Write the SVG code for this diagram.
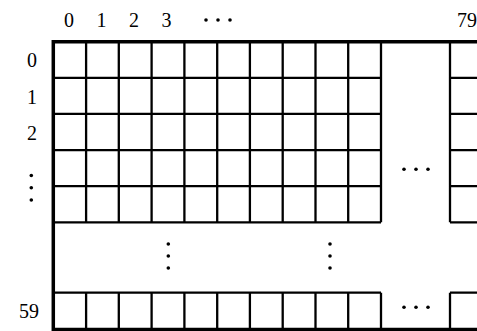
<svg xmlns="http://www.w3.org/2000/svg" width="477" height="331" viewBox="0 0 477 331">
<style>
.t{font-family:"Liberation Serif","Times New Roman",serif;font-size:20px;fill:#000}
.thin{stroke:#000;stroke-width:2.3;fill:none}
.thick{stroke:#000;stroke-width:3.5;fill:none}
.dot{fill:#000}
</style>
<rect width="477" height="331" fill="#fff"/>
<g id="grid">
<path class="thin" d="M53.3 77.8H381M53.3 113.9H381M53.3 150.1H381M53.3 186.2H381M53.3 222.3H381M53.3 292.7H381
M450 77.8H477M450 113.9H477M450 150.1H477M450 186.2H477M450 222.3H477M450 292.7H477
M86.1 41.7V222.3M118.8 41.7V222.3M151.6 41.7V222.3M184.4 41.7V222.3M217.2 41.7V222.3M249.9 41.7V222.3M282.7 41.7V222.3M315.5 41.7V222.3M348.2 41.7V222.3M381 41.7V222.3M450 41.7V222.3
M86.1 292.7V329.3M118.8 292.7V329.3M151.6 292.7V329.3M184.4 292.7V329.3M217.2 292.7V329.3M249.9 292.7V329.3M282.7 292.7V329.3M315.5 292.7V329.3M348.2 292.7V329.3M381 292.7V329.3M450 292.7V329.3"/>
<path class="thick" d="M53.3 40V331M51.6 41.7H477M51.6 329.4H477"/>
</g>
<g id="col-labels">
<text class="t" x="69" y="26.5" text-anchor="middle">0</text>
<text class="t" x="101.5" y="26.5" text-anchor="middle">1</text>
<text class="t" x="134" y="26.5" text-anchor="middle">2</text>
<text class="t" x="166.5" y="26.5" text-anchor="middle">3</text>
<circle class="dot" cx="206" cy="20" r="1.8"/>
<circle class="dot" cx="218" cy="20" r="1.8"/>
<circle class="dot" cx="230" cy="20" r="1.8"/>
<text class="t" x="477" y="26.5" text-anchor="end">79</text>
</g>
<g id="row-labels">
<text class="t" x="32" y="66.8" text-anchor="middle">0</text>
<text class="t" x="32" y="103.8" text-anchor="middle">1</text>
<text class="t" x="32" y="140.3" text-anchor="middle">2</text>
<circle class="dot" cx="31.3" cy="175.5" r="1.8"/>
<circle class="dot" cx="31.3" cy="187.7" r="1.8"/>
<circle class="dot" cx="31.3" cy="200" r="1.8"/>
<text class="t" x="39" y="318" text-anchor="end">59</text>
</g>
<g id="ellipses">
<circle class="dot" cx="168.3" cy="244" r="1.8"/>
<circle class="dot" cx="168.3" cy="256" r="1.8"/>
<circle class="dot" cx="168.3" cy="268" r="1.8"/>
<circle class="dot" cx="330" cy="244" r="1.8"/>
<circle class="dot" cx="330" cy="256" r="1.8"/>
<circle class="dot" cx="330" cy="268" r="1.8"/>
<circle class="dot" cx="404" cy="169.3" r="1.8"/>
<circle class="dot" cx="416" cy="169.3" r="1.8"/>
<circle class="dot" cx="428" cy="169.3" r="1.8"/>
<circle class="dot" cx="404" cy="307.3" r="1.8"/>
<circle class="dot" cx="416" cy="307.3" r="1.8"/>
<circle class="dot" cx="428" cy="307.3" r="1.8"/>
</g>
</svg>
